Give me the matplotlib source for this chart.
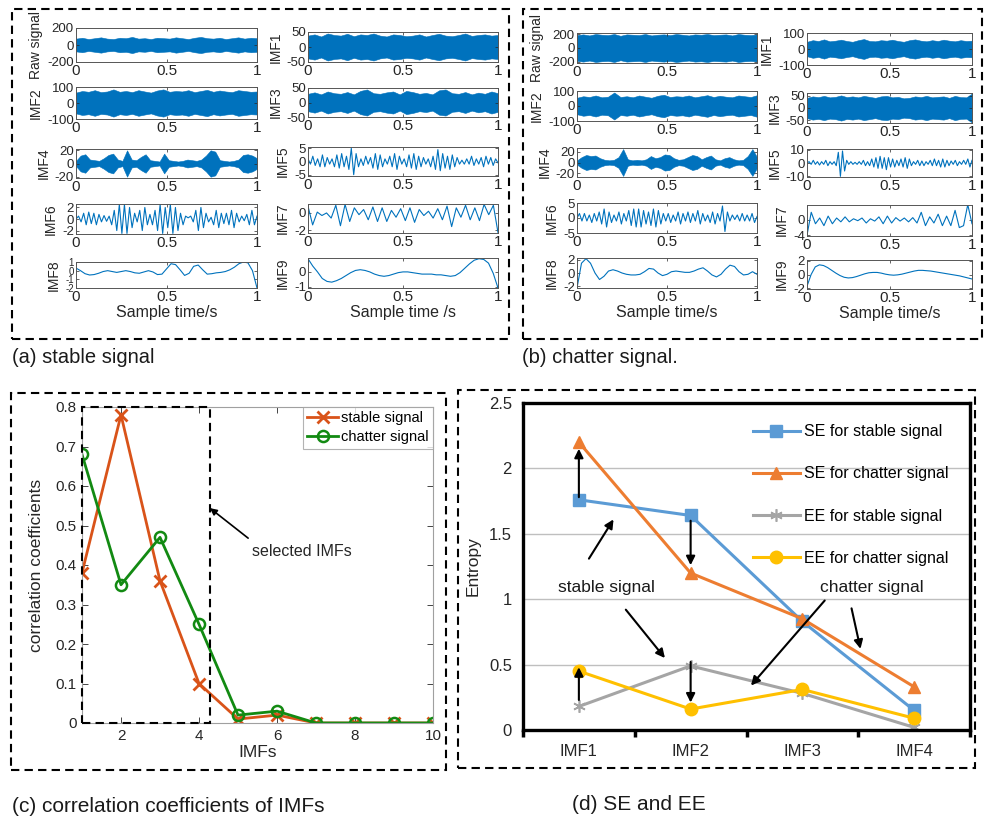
import numpy as np
import matplotlib
matplotlib.use("Agg")
import matplotlib.pyplot as plt
from matplotlib.patches import Rectangle

plt.rcParams['font.family'] = ['Liberation Sans', 'DejaVu Sans']

W, H = 989, 817

# ---------------- (a) stable signal: band amplitudes of the dense traces ----------------
raw_s = [75, 85, 70, 80, 90, 75, 70, 85, 80, 95, 75, 80, 70, 85, 80,
         75, 90, 80, 70, 85, 95, 80, 75, 85, 70, 80, 90, 75, 85, 80]
imf1_s = [38, 42, 35, 45, 40, 38, 44, 36, 42, 40, 45, 38, 35, 42, 40,
          36, 38, 42, 35, 40, 44, 38, 36, 40, 45, 37, 40, 42, 38, 40]
imf2_s = [65, 75, 70, 80, 68, 72, 85, 70, 75, 68, 80, 72, 65, 78, 85,
          70, 75, 72, 80, 68, 75, 82, 70, 78, 72, 68, 80, 75, 70, 72]
imf3_s = [30, 35, 28, 38, 32, 30, 36, 28, 40, 45, 32, 30, 35, 38, 28,
          40, 36, 30, 33, 28, 42, 45, 32, 30, 36, 28, 34, 30, 38, 32]
imf4_s = [4, 12, 14, 6, 5, 4, 8, 13, 15, 6, 4, 20, 6, 5, 10, 14, 5, 4, 3, 15,
          5, 4, 3, 4, 6, 5, 4, 6, 12, 20, 18, 5, 4, 3, 4, 6, 13, 14, 12, 8]
# oscillating traces: successive extrema
imf5_s = [1, -1, 2, -1.5, 1, -2, 2.5, -2, 1.5, -1, 1, -2, 2.5, -2.5, 3, -2, 2, -3, 5, -5,
          3, -2, 1, -1.5, 2, -1, 1.5, -2.5, 3, -3, 2.5, -2, 1, -1, 2, -2, 3, -3, 2, -1,
          1, -2, 2.5, -2.5, 3, -3, 2, -2, 1.5, -1, 1, -2, 2, -3, 4.5, -3.5, 3, -2.5, 2, -3,
          2.5, -2, 1.5, -1, 0.5, -1, 1, -1, 2, -1.5, 1, -1, 1.5, -2, 2, -1, 1.5, -1.5, 1, -0.5]
imf6_s = [0, 0.5, -0.5, 1, -1, 1.2, -0.8, 1, -1, 0.8, -0.5, 0.6, -0.4, 0.5, -1, 1.5, -2, 2.5,
          -2.5, 2.5, -2.5, 2, -1.5, 1, -0.5, 1.5, -2, 2, -1, 0.8, -1, 1.5, -2, 2.5, -2.5, 2,
          -1.5, 2.5, -2.5, 2, -2, 1, -1, 0.5, 0.2, 0.5, -0.5, 1.5, -2, 2, -1.5, 1, -0.5, 0.3,
          -1, 1.5, -1.5, 1, -0.8, 1, -1, 1.5, -1.5, 1, -0.5, 0.5, -0.3, 0.8, -1, 1.5, -1, 0.5]
imf7_s = [0.8, -1.4, 0.1, -0.3, 0.0, -0.6, 0.9, -1.5, 1.0, -1.0, 0.6, -0.2, 0.4, -0.8,
          0.7, -1.0, 0.6, -1.0, 0.3, -0.5, 0.5, -0.9, 0.6, -1.1, 0.4, -0.3, 0.2, -0.6,
          0.5, -0.8, 0.8, -1.6, 0.6, -0.5, 0.9, -0.8, 0.6, -0.9, 1.0, -0.2, 0.9, -2.3]
# slow traces: values every 0.025 s
imf8_s = [0.3, 0.0, -0.35, -0.5, -0.45, -0.3, -0.1, 0.0, -0.1, -0.2, -0.1, 0.0, -0.1, -0.25,
          -0.3, -0.15, 0.0, -0.15, -0.45, -0.4, 0.2, 0.8, 0.7, 0.1, -0.55, -0.3, 0.5, 0.65,
          0.1, -0.4, -0.35, -0.25, -0.2, -0.1, 0.1, 0.4, 0.8, 1.0, 0.9, 0.0, -2.0]
imf9_s = [0.9, 0.4, 0.0, -0.45, -0.65, -0.7, -0.6, -0.45, -0.25, -0.05, 0.1, 0.15, 0.1, 0.0,
          -0.15, -0.25, -0.3, -0.25, -0.15, -0.05, 0.0, 0.0, -0.05, -0.1, -0.15, -0.15, -0.15,
          -0.2, -0.2, -0.25, -0.3, -0.25, -0.05, 0.25, 0.55, 0.8, 0.9, 0.85, 0.6, -0.1, -1.1]

# ---------------- (b) chatter signal ----------------
raw_c = [185, 195, 180, 200, 190, 185, 200, 175, 195, 190, 185, 200, 180, 190, 195,
         185, 200, 190, 180, 195, 190, 200, 185, 190, 195, 180, 200, 190, 185, 195]
imf1_c = [45, 55, 50, 60, 48, 52, 58, 50, 45, 55, 62, 50, 48, 55, 52,
          58, 50, 45, 55, 60, 52, 48, 55, 50, 58, 52, 48, 55, 50, 52]
imf2_c = [55, 65, 60, 70, 58, 62, 90, 60, 65, 58, 70, 62, 55, 68, 75,
          60, 65, 62, 70, 58, 65, 72, 60, 68, 62, 58, 70, 65, 60, 72]
imf3_c = [42, 48, 45, 50, 44, 46, 52, 45, 48, 44, 50, 46, 42, 48, 50,
          44, 46, 40, 42, 48, 45, 50, 44, 46, 48, 42, 50, 45, 44, 60]
imf4_c = [4, 10, 14, 12, 13, 8, 5, 4, 5, 10, 25, 6, 4, 5, 4, 6, 12, 8, 10, 15,
          14, 8, 5, 6, 10, 14, 12, 6, 10, 13, 6, 4, 8, 10, 6, 4, 5, 12, 25, 10]
imf5_c = [0, 1, -1, 2, -1, 1, -1.5, 1, -1, 2, -2, 1, -1, 1, -2, 8, -10, 9, -6, 2,
          -1, 1, -1, 0.5, -1, 1, -1, 2, -2, 1, -2, 3, -3, 4, -4, 5, -4, 4, -5, 4,
          -3, 3, -3, 2, -2, 3, -3, 4, -4, 3, -2, 1, -1, 2, -2, 1.5, -2, 1, -1, 2,
          -2, 3, -2, 2, -3, 3, -3, 2, -2, 1.5, -1, 2, -2, 1, -1, 2, -1, 3, -3, 2]
imf6_c = [0, 1.5, -1, 1.5, -1, 1, -1.5, 1.5, -1, 2, -2, 3, -3, 2, -1.5, 1, -1, 2, -2, 1.5,
          -1, 2.5, -2.5, 3, -3, 3, -3, 2.5, -2, 2, -2.5, 3, -3, 2.5, -2, 1.5, -1, 1.5, -1.5,
          1, -1, 2, -2, 1.5, -1, 2, -1.5, 1.5, -1, 2.5, -2, 1.5, -1, 1, -1.5, 2, -2, 1.5, -1,
          4, -4.5, 2, -1, 1, -0.5, 1, -1, 1.5, -1, 1, -1, 1.5, -1.5, 0.5]
imf7_c = [-4, 2, -1, 0.5, -1.5, 1, -1, 0.5, -0.5, 0.8, -0.5, 0.3, -0.2, 0.5, -0.8, 0.3,
          -0.3, 0.8, -1, 1, -0.8, 0.6, -0.3, 0.5, -0.5, 0.6, -0.8, 2, -1.5, 0.8, -0.8, 1.5,
          -1.5, 1, -1.5, 2.5, -2, -1.5, 4, -1]
imf8_c = [-2.3, 1.5, 2.2, 1.5, 0.0, -1.0, -0.5, 0.3, 0.5, 0.3, 0.0, -0.2, -0.3, -0.3, -0.2,
          0.2, 0.7, 0.6, 0.0, -0.4, -0.2, 0.2, 0.3, 0.2, 0.1, 0.1, 0.3, 0.6, 0.8, 0.3, -0.3,
          -0.6, -0.2, 0.6, 1.2, 1.0, 0.2, -0.3, -0.2, 0.2, -0.2]
imf9_c = [-1.7, 0.0, 1.1, 1.4, 1.3, 1.0, 0.6, 0.2, -0.15, -0.4, -0.5, -0.45, -0.3, -0.1, 0.1,
          0.25, 0.3, 0.3, 0.2, 0.05, -0.05, -0.1, -0.05, 0.05, 0.2, 0.35, 0.5, 0.6, 0.6, 0.55,
          0.5, 0.4, 0.3, 0.2, 0.1, 0.0, -0.1, -0.2, -0.35, -0.5, -0.65]

# ---------------- (c) correlation coefficients ----------------
imf_idx = [1, 2, 3, 4, 5, 6, 7, 8, 9, 10]
corr_stable = [0.38, 0.78, 0.36, 0.10, 0.01, 0.02, 0.0, 0.0, 0.0, 0.0]
corr_chatter = [0.68, 0.35, 0.47, 0.25, 0.02, 0.03, 0.0, 0.0, 0.0, 0.0]

# ---------------- (d) SE and EE ----------------
ent_cats = ["IMF1", "IMF2", "IMF3", "IMF4"]
se_stable = [1.76, 1.64, 0.83, 0.15]
se_chatter = [2.20, 1.20, 0.85, 0.33]
ee_stable = [0.18, 0.49, 0.28, 0.02]
ee_chatter = [0.45, 0.16, 0.31, 0.09]

BLUE = "#0072BD"


def px_axes(fig, x0, x1, y0, y1):
    return fig.add_axes([x0 / W, 1 - y1 / H, (x1 - x0) / W, (y1 - y0) / H])


def dashed_box(fig, x0, x1, y0, y1):
    fig.add_artist(Rectangle((x0 / W, 1 - y1 / H), (x1 - x0) / W, (y1 - y0) / H,
                             transform=fig.transFigure, fill=False, ec="black",
                             lw=1.5, ls=(0, (4, 2.5))))


def signal_panel(ax, vals, ylim, yticks, label, band=False, xlabel=None):
    t = np.linspace(0, 1, len(vals))
    v = np.asarray(vals, dtype=float)
    if band:
        ax.fill_between(t, -v, v, color=BLUE, lw=0.4, ec=BLUE)
    else:
        ax.plot(t, v, color=BLUE, lw=0.8)
    ax.set_xlim(0, 1)
    ax.set_ylim(*ylim)
    ax.set_xticks([0, 0.5, 1])
    ax.set_xticklabels(["0", "0.5", "1"])
    ax.set_yticks(yticks)
    ax.set_yticklabels([f"{y:g}" for y in yticks])
    ax.tick_params(direction="in", length=2, width=0.5, labelsize=11,
                   colors="#262626", pad=1.5, top=True, right=True)
    # the panels are only ~30 px tall, so the y labels get a smaller font
    ysize = 9.5 if len(yticks) <= 3 else 7
    ax.tick_params(axis="y", labelsize=ysize)
    for s in ax.spines.values():
        s.set_color("#555555")
        s.set_linewidth(0.7)
    ax.set_ylabel(label, fontsize=10, color="#262626", labelpad=3)
    if xlabel:
        ax.set_xlabel(xlabel, fontsize=11.5, color="#262626", labelpad=1)


fig = plt.figure(figsize=(W / 100, H / 100), dpi=100)

# panel (a)
rows_a_left = [(28, 62), (87, 119), (149, 178), (204, 234), (262, 288)]
rows_a_right = [(32, 62), (88, 117), (147, 176), (204, 233), (258, 288)]
left_a = [(raw_s, (-200, 200), [-200, 0, 200], "Raw signal", True),
          (imf2_s, (-100, 100), [-100, 0, 100], "IMF2", True),
          (imf4_s, (-22, 22), [-20, 0, 20], "IMF4", True),
          (imf6_s, (-2.6, 2.6), [-2, 0, 2], "IMF6", False),
          (imf8_s, (-2, 1), [-2, -1, 0, 1], "IMF8", False)]
right_a = [(imf1_s, (-50, 50), [-50, 0, 50], "IMF1", True),
           (imf3_s, (-50, 50), [-50, 0, 50], "IMF3", True),
           (imf5_s, (-5.5, 5.5), [-5, 0, 5], "IMF5", False),
           (imf7_s, (-2.35, 1.05), [-2, 0], "IMF7", False),
           (imf9_s, (-1.1, 0.95), [-1, 0], "IMF9", False)]
for i, ((y0, y1), spec) in enumerate(zip(rows_a_left, left_a)):
    ax = px_axes(fig, 76, 257, y0, y1)
    signal_panel(ax, *spec, xlabel="Sample time/s" if i == 4 else None)
for i, ((y0, y1), spec) in enumerate(zip(rows_a_right, right_a)):
    ax = px_axes(fig, 308, 498, y0, y1)
    signal_panel(ax, *spec, xlabel="Sample time /s" if i == 4 else None)

# panel (b)
rows_b_left = [(33, 63), (91, 121), (148, 177), (203, 233), (258, 288)]
rows_b_right = [(33, 65), (93, 123), (149, 177), (205, 236), (260, 289)]
left_b = [(raw_c, (-215, 215), [-200, 0, 200], "Raw signal", True),
          (imf2_c, (-100, 100), [-100, 0, 100], "IMF2", True),
          (imf4_c, (-27, 27), [-20, 0, 20], "IMF4", True),
          (imf6_c, (-5, 5), [-5, 0, 5], "IMF6", False),
          (imf8_c, (-2.3, 2.3), [-2, 0, 2], "IMF8", False)]
right_b = [(imf1_c, (-100, 100), [-100, 0, 100], "IMF1", True),
           (imf3_c, (-62, 62), [-50, 0, 50], "IMF3", True),
           (imf5_c, (-10.5, 10.5), [-10, 0, 10], "IMF5", False),
           (imf7_c, (-4.2, 3.9), [-4, 0], "IMF7", False),
           (imf9_c, (-2.1, 2.1), [-2, 0, 2], "IMF9", False)]
for i, ((y0, y1), spec) in enumerate(zip(rows_b_left, left_b)):
    ax = px_axes(fig, 577, 757, y0, y1)
    signal_panel(ax, *spec, xlabel="Sample time/s" if i == 4 else None)
for i, ((y0, y1), spec) in enumerate(zip(rows_b_right, right_b)):
    ax = px_axes(fig, 807, 972, y0, y1)
    signal_panel(ax, *spec, xlabel="Sample time/s" if i == 4 else None)

dashed_box(fig, 12, 509, 9, 339)
dashed_box(fig, 523, 982, 9, 339)
fig.text(12 / W, 1 - 358 / H, "(a) stable signal", fontsize=14.5, va="center", color="#1a1a1a")
fig.text(522 / W, 1 - 358 / H, "(b) chatter signal.", fontsize=14.5, va="center", color="#1a1a1a")

# panel (c)
axc = px_axes(fig, 82, 433, 407, 723)
axc.plot(imf_idx, corr_stable, color="#D95319", lw=2, marker="x", ms=9, mew=2,
         label="stable signal")
axc.plot(imf_idx, corr_chatter, color="#128A12", lw=2, marker="o", ms=8, mew=1.8,
         mfc="none", label="chatter signal")
axc.set_xlim(1, 10)
axc.set_ylim(0, 0.8)
axc.set_xticks([2, 4, 6, 8, 10])
axc.set_yticks(np.arange(0, 0.81, 0.1))
axc.set_yticklabels(["0", "0.1", "0.2", "0.3", "0.4", "0.5", "0.6", "0.7", "0.8"])
axc.tick_params(direction="in", length=4, width=0.6, labelsize=11, colors="#262626",
                top=True, right=True, pad=4)
for s in axc.spines.values():
    s.set_color("#A0A0A0")
    s.set_linewidth(0.8)
axc.set_xlabel("IMFs", fontsize=12.5, color="#262626", labelpad=2)
axc.set_ylabel("correlation coefficients", fontsize=12.5, color="#262626", labelpad=8)
leg = axc.legend(loc="upper right", fontsize=10.5, handlelength=2.1, handletextpad=0.2,
                 borderaxespad=0, fancybox=False, borderpad=0.3, labelspacing=0.35)
leg.get_frame().set_edgecolor("#A0A0A0")
leg.get_frame().set_linewidth(0.8)
axc.add_patch(Rectangle((1, 0), 3.28, 0.8, fill=False, ec="black", lw=1.5,
                        ls=(0, (4, 2.5)), clip_on=False, zorder=5))
axc.annotate("", xy=(4.28, 0.544), xytext=(5.26, 0.468),
             arrowprops=dict(arrowstyle="-|>", color="black", lw=1.2,
                             mutation_scale=10, shrinkA=0, shrinkB=0))
axc.text(5.36, 0.435, "selected IMFs", fontsize=11.5, va="center", color="#262626")
dashed_box(fig, 11, 446, 393, 770)
fig.text(12 / W, 1 - 807 / H, "(c) correlation coefficients of IMFs", fontsize=15,
         va="center", color="#1a1a1a")

# panel (d)
axd = px_axes(fig, 523, 970, 403, 730)
xd = np.arange(len(ent_cats))
axd.yaxis.grid(True, color="#BFBFBF", lw=1)
axd.set_axisbelow(True)
axd.plot(xd, se_stable, color="#5B9BD5", lw=2.2, marker="s", ms=9, label="SE for stable signal")
axd.plot(xd, se_chatter, color="#ED7D31", lw=2.2, marker="^", ms=9, label="SE for chatter signal")
axd.plot(xd, ee_stable, color="#A5A5A5", lw=2.2, marker=(6, 2, 0), ms=9, mew=1.2,
         label="EE for stable signal")
axd.plot(xd, ee_chatter, color="#FFC000", lw=2.2, marker="o", ms=9, label="EE for chatter signal")
axd.set_xlim(-0.5, 3.5)
axd.set_ylim(0, 2.5)
axd.set_yticks([0, 0.5, 1, 1.5, 2, 2.5])
axd.set_yticklabels(["0", "0.5", "1", "1.5", "2", "2.5"])
axd.set_xticks(xd)
axd.set_xticklabels(ent_cats)
axd.set_xticks([-0.5, 0.5, 1.5, 2.5, 3.5], minor=True)
axd.tick_params(axis="x", which="major", length=0, labelsize=12, pad=10, colors="#262626")
axd.tick_params(axis="x", which="minor", direction="out", length=5, width=2.5, color="black")
axd.tick_params(axis="y", length=0, labelsize=12, pad=8, colors="#262626")
for s in axd.spines.values():
    s.set_color("black")
    s.set_linewidth(2.4)
axd.set_ylabel("Entropy", fontsize=12.5, color="#262626", labelpad=6)
axd.legend(loc="upper left", bbox_to_anchor=(0.515, 0.935), frameon=False, fontsize=11.5,
           handlelength=2.9, handletextpad=0.3, labelspacing=1.7, borderpad=0,
           borderaxespad=0)

arrow_kw = dict(arrowstyle="-|>", color="black", lw=1.5, mutation_scale=13,
                shrinkA=0, shrinkB=0)
arrows_d = [((0.0, 1.78), (0.0, 2.15)),
            ((0.09, 1.31), (0.31, 1.61)),
            ((1.0, 1.60), (1.0, 1.26)),
            ((0.42, 0.92), (0.77, 0.55)),
            ((2.20, 0.99), (1.54, 0.34)),
            ((2.44, 0.93), (2.52, 0.62)),
            ((0.0, 0.23), (0.0, 0.48)),
            ((1.0, 0.52), (1.0, 0.21))]
for tail, head in arrows_d:
    axd.annotate("", xy=head, xytext=tail, arrowprops=arrow_kw)
axd.text(0.25, 1.09, "stable signal", fontsize=12.5, ha="center", va="center", color="#1a1a1a")
axd.text(2.62, 1.09, "chatter signal", fontsize=12.5, ha="center", va="center", color="#1a1a1a")
dashed_box(fig, 458, 975, 390, 768)
fig.text(572 / W, 1 - 805 / H, "(d) SE and EE", fontsize=15, va="center", color="#1a1a1a")

fig.savefig("out.png", dpi=100)
